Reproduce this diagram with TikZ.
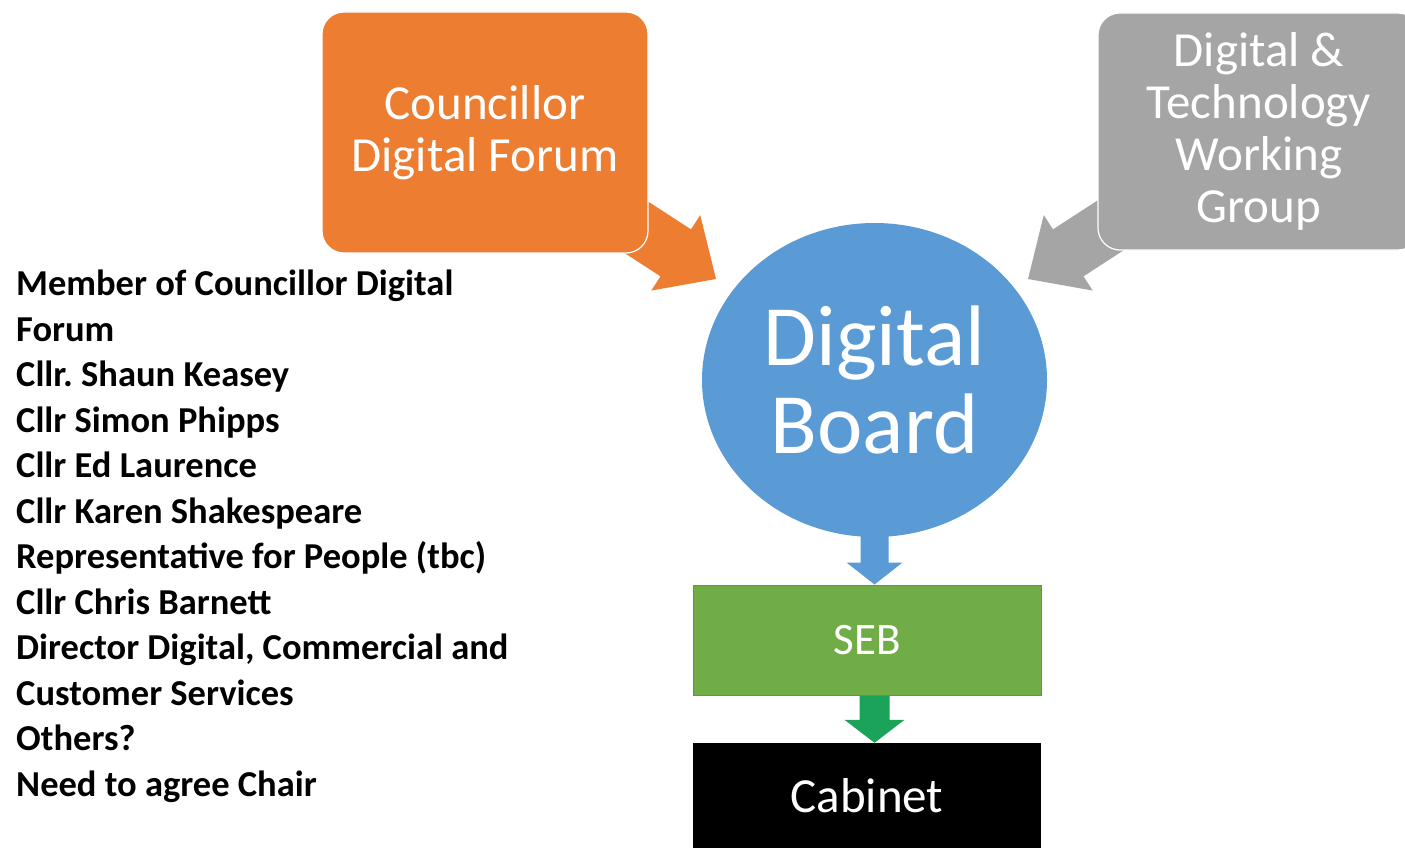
\documentclass[tikz,border=0pt]{standalone}
\usepackage{fontspec}
\setmainfont{Carlito}
\usetikzlibrary{shapes.geometric,calc,backgrounds}
\definecolor{corange}{HTML}{ED7D31}
\definecolor{cgray}{HTML}{A5A5A5}
\definecolor{cblue}{HTML}{5B9BD5}
\definecolor{cgreen}{HTML}{70AD47}
\definecolor{cgreenline}{HTML}{5E9A3A}
\definecolor{cgreenarrow}{RGB}{28,163,90}
\frenchspacing
\begin{document}
\begin{tikzpicture}[x=1pt,y=-1pt,
  topbox/.style={draw=white, line width=1.2pt, rounded corners=22pt, text=white,
    align=center, inner sep=0pt, font=\fontsize{49}{52}\selectfont},
  flatbox/.style={rectangle, inner sep=0pt, text=white, minimum width=348pt},
  blockarrow/.style={draw=none}]
\useasboundingbox (0,0) rectangle (1405,848);

% nodes
\node[topbox, fill=corange, minimum width=326pt, minimum height=241pt] (cdf) at (485,132.5) {Councillor\\Digital Forum};
\node[topbox, fill=cgray, minimum width=322pt, minimum height=237pt] (dtwg) at (1259,131.5) {Digital \&\\Technology\\Working\\Group};
\node[ellipse, fill=cblue, minimum width=345pt, minimum height=314pt, inner sep=0pt, text=white,
  align=center, font=\fontsize{86}{88}\selectfont] (board) at (874.5,380) {Digital\\Board};
\node[flatbox, fill=cgreen, draw=cgreenline, line width=1pt, minimum height=110pt,
  font=\fontsize{45}{45}\selectfont] (seb) at (867,640) {SEB};
\node[flatbox, fill=black, minimum height=106pt, font=\fontsize{49}{49}\selectfont] (cab) at (867,796) {Cabinet};

\node[anchor=north west, align=left, inner sep=0pt, font=\bfseries\fontsize{36.5}{45.5}\selectfont] (members) at (16,270)
  {Member of Councillor Digital\\Forum\\Cllr. Shaun Keasey\\Cllr Simon Phipps\\Cllr Ed Laurence\\Cllr Karen Shakespeare\\Representative for People (tbc)\\Cllr Chris Barnett\\Director Digital, Commercial and\\Customer Services\\Others?\\Need to agree Chair};

\coordinate (otip) at (716,279);
\coordinate (gtip) at (1028,279);

% connectors (block arrows) behind the nodes
\begin{scope}[on background layer]
  \fill[white] (0,0) rectangle (1405,848);
  \begin{scope}[shift={(otip)}, rotate=-33]
    \fill[corange, blockarrow] (0,0) -- (-48,45) -- (-48,28) -- (-160,28) -- (-160,-28) -- (-48,-28) -- (-48,-45) -- cycle;
  \end{scope}
  \begin{scope}[shift={(gtip)}, rotate=-147]
    \fill[cgray, blockarrow] (0,0) -- (-48,45) -- (-48,28) -- (-160,28) -- (-160,-28) -- (-48,-28) -- (-48,-45) -- cycle;
  \end{scope}
  \fill[cblue, blockarrow] (board.south |- seb.north) -- +(-28,-22) -- +(-14,-22) -- +(-14,-60) -- +(14,-60) -- +(14,-22) -- +(28,-22) -- cycle;
  \fill[cgreenarrow, blockarrow] (board.south |- cab.north) -- +(-30,-23) -- +(-15,-23) -- +(-15,-50) -- +(15,-50) -- +(15,-23) -- +(30,-23) -- cycle;
\end{scope}
\end{tikzpicture}
\end{document}
